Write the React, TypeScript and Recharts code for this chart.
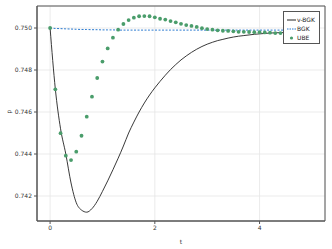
import React from 'react';
import {
  ComposedChart,
  Line,
  Scatter,
  XAxis,
  YAxis,
  CartesianGrid,
  Legend,
  ReferenceArea,
  Label
} from 'recharts';

// time grid, step 0.1 from 0 to 5
const tValues = [
  0, 0.1, 0.2, 0.3, 0.4, 0.5, 0.6, 0.7, 0.8, 0.9,
  1.0, 1.1, 1.2, 1.3, 1.4, 1.5, 1.6, 1.7, 1.8, 1.9,
  2.0, 2.1, 2.2, 2.3, 2.4, 2.5, 2.6, 2.7, 2.8, 2.9,
  3.0, 3.1, 3.2, 3.3, 3.4, 3.5, 3.6, 3.7, 3.8, 3.9,
  4.0, 4.1, 4.2, 4.3, 4.4, 4.5, 4.6, 4.7, 4.8, 4.9,
  5.0
];

const vbgk = [
  0.75, 0.7471, 0.7452, 0.7440, 0.74262, 0.74168, 0.74133, 0.74123, 0.7414, 0.74175,
  0.74222, 0.74272, 0.74325, 0.7438, 0.74438, 0.745, 0.74552, 0.746, 0.74643, 0.74681,
  0.74715, 0.74746, 0.74775, 0.74802, 0.74826, 0.74848, 0.74867, 0.74884, 0.74899, 0.74912,
  0.74923, 0.74932, 0.7494, 0.74946, 0.74952, 0.74957, 0.74961, 0.74964, 0.74967, 0.7497,
  0.74972, 0.74974, 0.74976, 0.74977, 0.74978, 0.74979, 0.7498, 0.74981, 0.74982, 0.74982,
  0.74983
];

const bgk = [
  0.75, 0.74998, 0.74997, 0.74996, 0.74995, 0.74994, 0.74993, 0.74993, 0.74992, 0.74992,
  0.74991, 0.74991, 0.74991, 0.7499, 0.7499, 0.7499, 0.7499, 0.7499, 0.7499, 0.7499,
  0.7499, 0.7499, 0.7499, 0.7499, 0.7499, 0.7499, 0.7499, 0.7499, 0.7499, 0.7499,
  0.7499, 0.7499, 0.7499, 0.7499, 0.7499, 0.7499, 0.7499, 0.7499, 0.7499, 0.7499,
  0.7499, 0.7499, 0.7499, 0.7499, 0.7499, 0.7499, 0.7499, 0.7499, 0.7499, 0.7499,
  0.7499
];

const ube = [
  0.75, 0.74708, 0.74499, 0.74392, 0.74371, 0.74411, 0.74487, 0.74578, 0.74673, 0.74762,
  0.7484, 0.74903, 0.74954, 0.74992, 0.75019, 0.75038, 0.75049, 0.75056, 0.75057, 0.75056,
  0.75051, 0.75044, 0.7504, 0.75033, 0.75027, 0.7502, 0.75014, 0.7501, 0.75005, 0.74999,
  0.74995, 0.74992, 0.74989, 0.74987, 0.74986, 0.74984, 0.74982, 0.74982, 0.74981, 0.7498,
  0.7498, 0.74979, 0.74978, 0.74976, 0.74976, 0.74976, 0.74977, 0.74977, 0.74978, 0.74978,
  0.74979
];

const xTicks = [0, 2, 4];
const yTicks = [0.742, 0.744, 0.746, 0.748, 0.75];
const xDomain = [-0.25, 5.25];
const yDomain = [0.74081, 0.751048];

const data = tValues.map((t, i) => ({ t, vbgk: vbgk[i], bgk: bgk[i], ube: ube[i] }));

const FONT = 'DejaVu Sans, sans-serif';

const LegendBox = () => (
  <div style={{
    position: 'absolute',
    left: 283,
    top: 11,
    width: 37,
    height: 33,
    boxSizing: 'border-box',
    background: '#fff',
    border: '1px solid #555',
    fontFamily: FONT,
    fontSize: 6,
    color: '#222',
    padding: '3px 0 0 3px',
    lineHeight: '9px'
  }}>
    <div>
      <svg width={9} height={6} style={{ verticalAlign: 'middle', marginRight: 1 }}>
        <line x1={0} y1={3} x2={9} y2={3} stroke="#222" strokeWidth={1} />
      </svg>
      v-BGK
    </div>
    <div>
      <svg width={9} height={6} style={{ verticalAlign: 'middle', marginRight: 1 }}>
        <line x1={0} y1={3} x2={9} y2={3} stroke="#2a7ad0" strokeWidth={1} strokeDasharray="1.5 1" />
      </svg>
      BGK
    </div>
    <div>
      <svg width={9} height={6} style={{ verticalAlign: 'middle', marginRight: 1 }}>
        <circle cx={4.5} cy={3} r={1.6} fill="#4a9d6b" />
      </svg>
      UBE
    </div>
  </div>
);

const Dot = (props: any) => {
  const { cx, cy } = props;
  if (cx == null || cy == null) return null;
  return <circle cx={cx} cy={cy} r={1.9} fill="#4a9d6b" />;
};

export default function App() {
  return (
    <div style={{ position: 'absolute', left: 0, top: 0, width: 332, height: 249, background: '#fff' }}>
      <ComposedChart
        width={332}
        height={249}
        data={data}
        margin={{ top: 6, right: 7, left: 0, bottom: 0 }}
      >
        <CartesianGrid stroke="#e6e6e6" strokeWidth={0.8} />
        <XAxis
          dataKey="t"
          type="number"
          domain={xDomain}
          ticks={xTicks}
          height={28}
          tick={{ fontSize: 6, fill: '#333', fontFamily: FONT }}
          tickSize={3}
          tickLine={{ stroke: '#555' }}
          axisLine={{ stroke: '#555' }}
          allowDataOverflow
        >
          <Label value="t" position="insideBottom" offset={5} style={{ fontSize: 6, fill: '#333', fontFamily: FONT }} />
        </XAxis>
        <YAxis
          type="number"
          domain={yDomain}
          ticks={yTicks}
          width={37}
          tick={{ fontSize: 6, fill: '#333', fontFamily: FONT }}
          tickFormatter={(v: number) => v.toFixed(3)}
          tickSize={3}
          tickLine={{ stroke: '#555' }}
          axisLine={{ stroke: '#555' }}
          allowDataOverflow
        >
          <Label value="p" angle={-90} position="insideLeft" offset={9} style={{ fontSize: 6, fill: '#333', fontFamily: FONT }} />
        </YAxis>
        <ReferenceArea
          x1={xDomain[0]}
          x2={xDomain[1]}
          y1={yDomain[0]}
          y2={yDomain[1]}
          fill="none"
          stroke="#555"
          strokeWidth={1}
          ifOverflow="visible"
        />
        <Line
          type="monotone"
          dataKey="vbgk"
          stroke="#222"
          strokeWidth={0.9}
          dot={false}
          isAnimationActive={false}
          name="v-BGK"
        />
        <Line
          type="monotone"
          dataKey="bgk"
          stroke="#2a7ad0"
          strokeWidth={1}
          strokeDasharray="2 1.5"
          dot={false}
          isAnimationActive={false}
          name="BGK"
        />
        <Scatter
          dataKey="ube"
          shape={<Dot />}
          isAnimationActive={false}
          name="UBE"
        />
        <Legend
          layout="vertical"
          align="center"
          verticalAlign="middle"
          content={() => <LegendBox />}
          wrapperStyle={{ position: 'absolute', left: 0, top: 0, width: 0, height: 0 }}
        />
      </ComposedChart>
    </div>
  );
}
